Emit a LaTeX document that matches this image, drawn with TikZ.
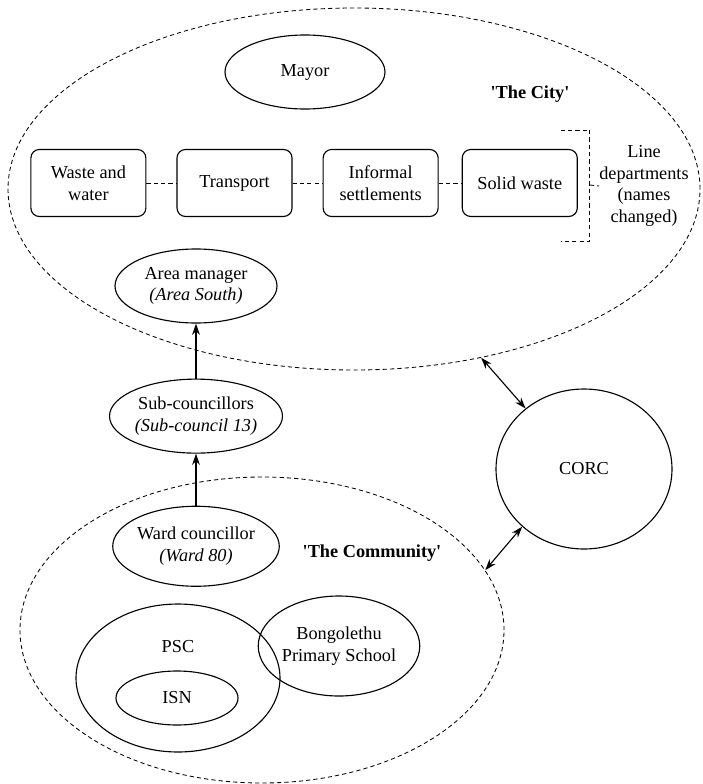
\documentclass[tikz,border=0pt]{standalone}
\usepackage{fontspec}
\setmainfont{LiberationSerif}[Extension=.ttf, UprightFont=*-Regular, BoldFont=*-Bold, ItalicFont=*-Italic, BoldItalicFont=*-BoldItalic]
\usepackage{tikz}
\usetikzlibrary{shapes.geometric, arrows.meta, positioning, calc}
\tikzstyle{arrow}=[-{Stealth[length=8pt,width=5.5pt]}, line width=0.8pt, color=black]
\tikzstyle{dblarrow}=[{Stealth[length=8pt,width=5.5pt]}-{Stealth[length=8pt,width=5.5pt]}, line width=0.8pt, color=black]

\begin{document}
\begin{tikzpicture}[node distance=0.75cm and 0.75cm,
  font=\rmfamily\fontsize{13}{15.4}\selectfont,
  zone/.style={ellipse, draw, dash pattern=on 3pt off 2.2pt, line width=0.6pt, inner sep=0pt},
  blob/.style={ellipse, draw, line width=0.8pt, inner sep=0pt, align=center},
  dept/.style={rectangle, rounded corners=6pt, draw, line width=0.8pt,
               minimum width=2.875cm, minimum height=1.675cm, align=center},
  dline/.style={dash pattern=on 3pt off 2.2pt, line width=0.6pt}
]
\useasboundingbox (0,0) rectangle (17.55,-19.6);

% the two zones
\node[zone, minimum width=17.3cm, minimum height=9.05cm] (city) at (8.85,-4.725) {};
\node[zone, minimum width=12.1cm, minimum height=7.65cm] (comm) at (6.55,-15.75) {};
\node[font=\rmfamily\fontsize{13}{15.4}\selectfont\bfseries] (citylbl) at (13.25,-2.35) {\textquotesingle The City\textquotesingle};
\node[font=\rmfamily\fontsize{13}{15.4}\selectfont\bfseries] (commlbl) at (9.3,-13.825) {\textquotesingle The Community\textquotesingle};

% city
\node[blob, minimum width=4cm, minimum height=1.85cm] (mayor) at (7.625,-1.8) {Mayor};
\node[dept] (waste) at (2.21,-4.575) {Waste and\\water};
\node[dept, right=of waste]  (transport) {Transport};
\node[dept, right=of transport] (informal) {Informal\\settlements};
\node[dept, right=0.575cm of informal] (solid) {Solid waste};
\node[align=center, inner sep=0pt] (linedep) at (16.1,-4.65) {Line\\departments\\(names\\changed)};

\draw[dline] (waste) -- (transport);
\draw[dline] (transport) -- (informal);
\draw[dline] (informal) -- (solid);
\coordinate (brmid) at ($(solid.east)+(0.3,-0.05)$);
\draw[dline] ($(solid.north east)+(-0.425,0.475)$) -| ($(solid.south east)+(0.3,-0.6)$) -- ++(-0.725,0);
\draw[dline] (brmid) -- (linedep.west);

% chain of councillors
\node[blob, minimum width=4.05cm, minimum height=1.85cm] (area) at (4.9,-7.15) {Area manager\\\textit{(Area South)}};
\node[blob, minimum width=4.05cm, minimum height=1.85cm, below=1.375cm of area] (sub) {Sub-councillors\\\textit{(Sub-council 13)}};
\node[blob, minimum width=4cm, minimum height=2cm, below=1.3cm of sub] (ward) {Ward councillor\\\textit{(Ward 80)}};
\draw[arrow] (sub) -- (area);
\draw[arrow] (ward) -- (sub);

% community
\node[blob, minimum width=5.1cm, minimum height=3.7cm,
      label={[anchor=center, yshift=-1.075cm]north:PSC}] (psc) at (4.45,-16.95) {};
\node[blob, minimum width=3.05cm, minimum height=1.35cm] (isn) at (4.425,-17.45) {ISN};
\node[blob, minimum width=3.9cm, minimum height=2.5cm] (school) at (8.475,-16.15) {Bongolethu\\Primary School};

% CORC
\node[blob, minimum width=4.4cm, minimum height=4cm] (corc) at (14.6,-11.725) {CORC};
\draw[dblarrow] (city.-53) -- (corc.134);
\draw[dblarrow] (corc.223) -- (comm.15);
\end{tikzpicture}
\end{document}
